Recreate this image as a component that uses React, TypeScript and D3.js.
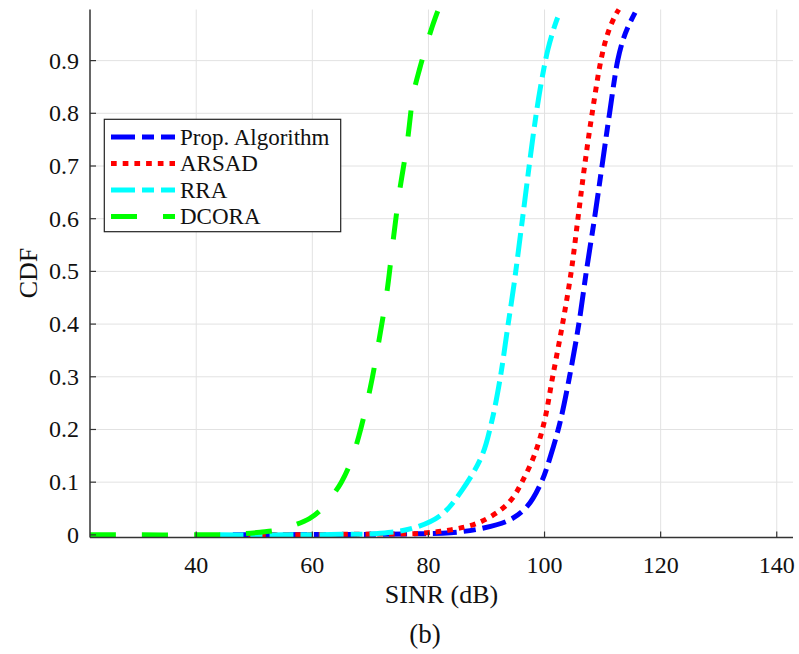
import React from "react";
import * as d3 from "d3";

// ---- Data ----
const xTicks = [40, 60, 80, 100, 120, 140];
const yTicks = [0, 0.1, 0.2, 0.3, 0.4, 0.5, 0.6, 0.7, 0.8, 0.9];
const yTickLabels = ["0", "0.1", "0.2", "0.3", "0.4", "0.5", "0.6", "0.7", "0.8", "0.9"];

const seriesNames = ["Prop. Algorithm", "ARSAD", "RRA", "DCORA"];

const propX = [46.3, 60, 70, 78, 83.8, 89.5, 94.1, 97, 99.45, 101.1, 102.7, 104.3, 105.9, 107.2, 108.6, 109.9, 111.2, 112.6, 113.6, 114.5, 115.6];
const propY = [0, 0.0005, 0.001, 0.002, 0.004, 0.013, 0.029, 0.054, 0.1, 0.152, 0.215, 0.3, 0.4, 0.5, 0.6, 0.7, 0.8, 0.9, 0.942, 0.967, 0.991];

const arsadX = [49, 60, 70, 78.6, 83.8, 88.4, 92.4, 94.5, 96.1, 98.2, 99.9, 101.4, 103.1, 104.6, 105.75, 106.9, 108.2, 109.7, 110.7, 111.6, 112.3, 112.8];
const arsadY = [0, 0.0005, 0.0015, 0.003, 0.0095, 0.022, 0.047, 0.07, 0.1, 0.15, 0.212, 0.3, 0.4, 0.5, 0.6, 0.7, 0.8, 0.9, 0.945, 0.972, 0.988, 0.997];

const rraX = [44, 55, 65, 71.7, 77.4, 82.2, 85.8, 89.2, 90.9, 92.4, 93.6, 94.8, 95.6, 96.4, 97.2, 98.1, 99.0, 99.9, 100.6, 101.3, 102.0, 102.5];
const rraY = [0, 0, 0.001, 0.003, 0.013, 0.038, 0.085, 0.15, 0.215, 0.3, 0.39, 0.48, 0.548, 0.617, 0.687, 0.763, 0.83, 0.886, 0.922, 0.95, 0.974, 0.988];

const dcoraX = [21.7, 30, 40, 45, 48, 51, 54, 57, 59.5, 61.5, 63.5, 65, 66.5, 68, 70, 71.5, 72.9, 73.9, 75, 76.3, 77.4, 78.5, 79.6, 80.6, 81.6];
const dcoraY = [0, 0, 0, 0.0005, 0.002, 0.005, 0.009, 0.019, 0.031, 0.048, 0.075, 0.1, 0.135, 0.187, 0.28, 0.37, 0.465, 0.557, 0.65, 0.74, 0.836, 0.885, 0.927, 0.963, 0.994];

const seriesXs = [propX, arsadX, rraX, dcoraX];
const seriesYs = [propY, arsadY, rraY, dcoraY];
const colors = ["#0000ff", "#ff0000", "#00ffff", "#00ff00"];
const dashes = ["24,7,12,7", "5.7,6", "24,7,12,7", "26,26"];

const FONT = "'Liberation Serif', 'Times New Roman', Times, 'DejaVu Serif', serif";

export default function App() {
  const W = 799, H = 654;
  const L = 90, R = 793, T = 9.5, B = 537.5;
  const x = d3.scaleLinear().domain([21.7, 142.8]).range([L, R]);
  const y = d3.scaleLinear().domain([-0.005, 0.997]).range([B, T]);
  const line = d3
    .line<[number, number]>()
    .x((d) => x(d[0]))
    .y((d) => y(d[1]))
    .curve(d3.curveCatmullRom.alpha(0.5));

  const axisColor = "#333";
  const gridColor = "#e2e2e2";
  const ts = (size: number) => ({ fontFamily: FONT, fontSize: size + "px", fill: "#111" });

  const legX = 104.3, legY = 119.3, legW = 236.4, legH = 112.4;
  const rowY = [137, 163.5, 190, 216.5];

  return (
    <svg width={W} height={H} style={{ position: "absolute", left: 0, top: 0, background: "#fff" }}>
      <rect x={0} y={0} width={W} height={H} fill="#fff" />
      {xTicks.map((t) => (
        <line key={"gx" + t} x1={x(t)} x2={x(t)} y1={T} y2={B} stroke={gridColor} strokeWidth={1} />
      ))}
      {yTicks.slice(1).map((t) => (
        <line key={"gy" + t} x1={L} x2={R} y1={y(t)} y2={y(t)} stroke={gridColor} strokeWidth={1} />
      ))}
      {seriesXs.map((xs, i) => {
        const pts: [number, number][] = xs.map((v, j) => [v, seriesYs[i][j]]);
        return (
          <path
            key={"s" + i}
            d={line(pts) || ""}
            fill="none"
            stroke={colors[i]}
            strokeWidth={5}
            strokeDasharray={dashes[i]}
            strokeLinecap="butt"
            strokeLinejoin="round"
          />
        );
      })}
      <line x1={L} x2={L} y1={T} y2={B} stroke={axisColor} strokeWidth={1.5} />
      <line x1={L} x2={R} y1={B} y2={B} stroke={axisColor} strokeWidth={1.5} />
      {xTicks.map((t) => (
        <g key={"xt" + t}>
          <line x1={x(t)} x2={x(t)} y1={B} y2={B - 6} stroke={axisColor} strokeWidth={1.2} />
          <text x={x(t)} y={573} textAnchor="middle" style={ts(24)}>
            {t}
          </text>
        </g>
      ))}
      {yTicks.map((t, i) => (
        <g key={"yt" + t}>
          <line x1={L} x2={L + 6} y1={y(t)} y2={y(t)} stroke={axisColor} strokeWidth={1.2} />
          <text x={79} y={y(t)} textAnchor="end" dominantBaseline="central" style={ts(24)}>
            {yTickLabels[i]}
          </text>
        </g>
      ))}
      <text x={(L + R) / 2} y={603} textAnchor="middle" style={ts(26)}>
        SINR (dB)
      </text>
      <text transform="translate(37,273) rotate(-90)" textAnchor="middle" style={ts(26)}>
        CDF
      </text>
      <text x={425} y={643} textAnchor="middle" style={ts(27)}>
        (b)
      </text>
      <rect x={legX} y={legY} width={legW} height={legH} fill="#fff" stroke="#222" strokeWidth={1.2} />
      {seriesNames.map((n, i) => (
        <g key={"lg" + i}>
          <line x1={111} x2={175} y1={rowY[i]} y2={rowY[i]} stroke={colors[i]} strokeWidth={5} strokeDasharray={dashes[i]} />
          <text x={180} y={rowY[i]} dominantBaseline="central" style={ts(23)}>
            {n}
          </text>
        </g>
      ))}
    </svg>
  );
}
